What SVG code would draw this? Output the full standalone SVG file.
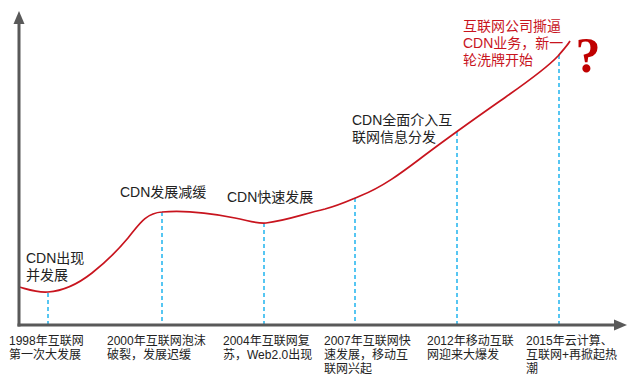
<svg xmlns="http://www.w3.org/2000/svg" width="637" height="386" viewBox="0 0 637 386">
<style>
.axis{stroke:#595959;stroke-width:3;fill:none}
.dash{stroke:#1fb4ee;stroke-width:1.5;stroke-dasharray:4 3;fill:none}
.curve{stroke:#c8141e;stroke-width:1.7;fill:none}
.lbl{font-family:"Liberation Sans","Noto Sans CJK SC",sans-serif;font-size:12px;fill:#222}
.big{font-family:"Liberation Sans","Noto Sans CJK SC",sans-serif;font-size:14px;fill:#222}
.red{font-family:"Liberation Sans","Noto Sans CJK SC",sans-serif;font-size:14px;fill:#c8141e}
.q{font-family:"Liberation Serif",serif;font-size:50px;font-weight:bold;fill:#c00000}
</style>
<rect width="637" height="386" fill="#fff"/>
<g id="connectors">
<line class="dash" x1="48" y1="293" x2="48" y2="324"/>
<line class="dash" x1="162" y1="212" x2="162" y2="324"/>
<line class="dash" x1="264" y1="223" x2="264" y2="324"/>
<line class="dash" x1="355" y1="198" x2="355" y2="324"/>
<line class="dash" x1="457" y1="132" x2="457" y2="324"/>
<line class="dash" x1="559" y1="55" x2="559" y2="324"/>
<path class="curve" d="M19,287 C30,290 38,293 48,292 C62,291 78,284 92,273 C106,262 118,250 128,238 C138,226 145,213 162,212 C185,210 210,213 235,218 C250,221 258,224 266,223 C285,221 300,215 325,209 C340,205 348,201 360,196 C385,186 405,170 425,155 C445,140 470,122 500,101 C520,87 545,70 558,56 C563,50 567,46 570,41"/>
</g>
<g id="axes">
<line class="axis" x1="19" y1="326.5" x2="19" y2="22"/>
<polygon points="19,11 13.5,24 24.5,24" fill="#595959"/>
<line class="axis" x1="17.5" y1="325" x2="615" y2="325"/>
<polygon points="627,325 614,319.5 614,330.5" fill="#595959"/>
</g>
<g id="n1998"><text class="lbl"><tspan x="9" y="345">1998年互联网</tspan><tspan x="9" y="359">第一次大发展</tspan></text></g>
<g id="n2000"><text class="lbl"><tspan x="107" y="345">2000年互联网泡沫</tspan><tspan x="107" y="359">破裂，发展迟缓</tspan></text></g>
<g id="n2004"><text class="lbl"><tspan x="223" y="345">2004年互联网复</tspan><tspan x="223" y="359">苏，Web2.0出现</tspan></text></g>
<g id="n2007"><text class="lbl"><tspan x="324" y="345">2007年互联网快</tspan><tspan x="324" y="359">速发展，移动互</tspan><tspan x="324" y="373">联网兴起</tspan></text></g>
<g id="n2012"><text class="lbl"><tspan x="427" y="345">2012年移动互联</tspan><tspan x="427" y="359">网迎来大爆发</tspan></text></g>
<g id="n2015"><text class="lbl"><tspan x="526" y="345">2015年云计算、</tspan><tspan x="526" y="359">互联网+再掀起热</tspan><tspan x="526" y="373">潮</tspan></text></g>
<g id="s1"><text class="big"><tspan x="26" y="263">CDN出现</tspan><tspan x="26" y="280">并发展</tspan></text></g>
<g id="s2"><text class="big" x="120" y="197">CDN发展减缓</text></g>
<g id="s3"><text class="big" x="227" y="202">CDN快速发展</text></g>
<g id="s4"><text class="big"><tspan x="352" y="125">CDN全面介入互</tspan><tspan x="352" y="142">联网信息分发</tspan></text></g>
<g id="s5"><text class="red"><tspan x="463" y="31">互联网公司撕逼</tspan><tspan x="463" y="48">CDN业务，新一</tspan><tspan x="463" y="65">轮洗牌开始</tspan></text></g>
<g id="q"><text class="q" x="588" y="72" text-anchor="middle">?</text></g>
</svg>
